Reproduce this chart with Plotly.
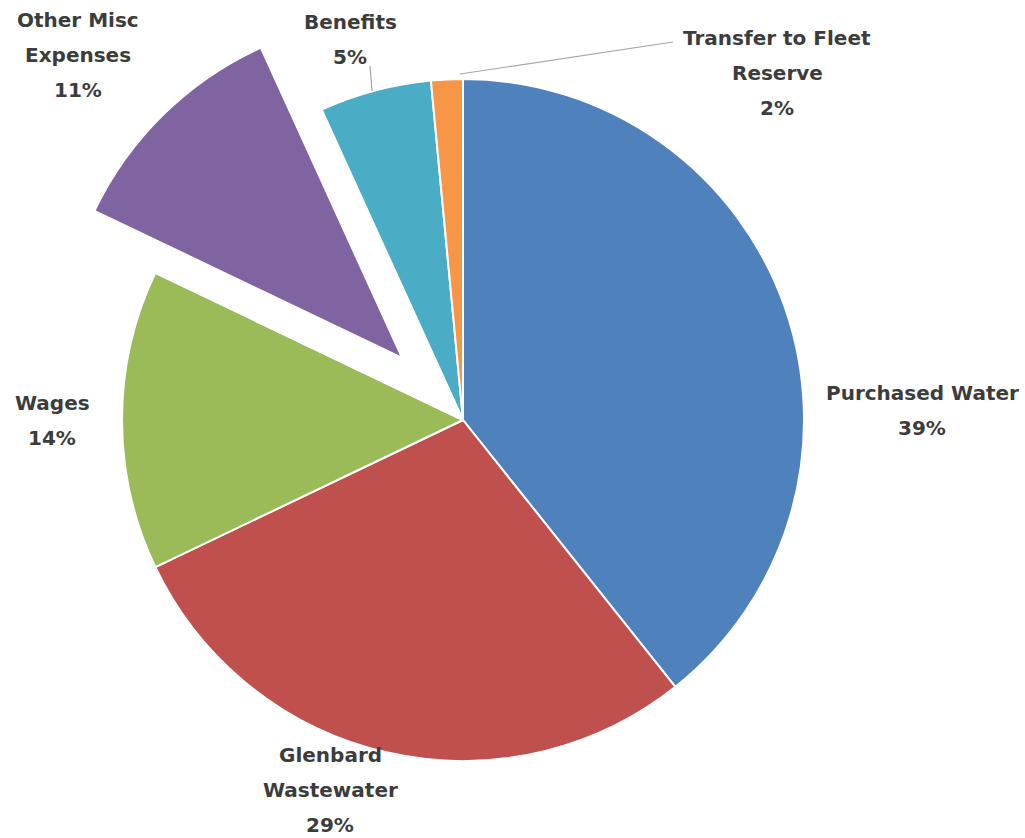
import math
import plotly.graph_objects as go

# ---- data ----
labels = ["Purchased Water", "Glenbard Wastewater", "Wages",
          "Other Misc Expenses", "Benefits", "Transfer to Fleet Reserve"]
values = [39.3, 28.6, 14.2, 11.1, 5.3, 1.5]
label_lines = [["Purchased Water"], ["Glenbard", "Wastewater"], ["Wages"],
               ["Other Misc", "Expenses"], ["Benefits"], ["Transfer to Fleet", "Reserve"]]
colors = ["#4F81BD", "#C0504D", "#9BBB59", "#8064A2", "#4BACC6", "#F79646"]
exploded = "Other Misc Expenses"

# ---- layout constants (pixels) ----
W, H = 1025, 838
CX, CY, R = 463, 420, 341
PULL = 0.255
LINE_STEP = 35
label_pos = {  # center x, first line center y
    "Purchased Water": (922, 393),
    "Glenbard Wastewater": (330, 755),
    "Wages": (52, 403),
    "Other Misc Expenses": (78, 20),
    "Benefits": (350, 22),
    "Transfer to Fleet Reserve": (777, 38),
}
leaders = [((370, 66), (372, 91)), ((673, 42), (460, 74))]

def px(x):
    return x / W

def py(y):
    return 1 - y / H

total = sum(values)
pcts = [f"{v / total * 100:.0f}%" for v in values]
ix = labels.index(exploded)
start = sum(values[:ix]) / total * 360
mid = math.radians(start + values[ix] / total * 360 / 2)
ox = PULL * R * math.sin(mid)
oy = -PULL * R * math.cos(mid)

clear = "rgba(0,0,0,0)"
fig = go.Figure()
# main pie (exploded slice hidden)
fig.add_trace(go.Pie(
    labels=labels, values=values, sort=False, direction="clockwise", rotation=0,
    marker=dict(colors=[clear if l == exploded else c for l, c in zip(labels, colors)],
                line=dict(color="white", width=2)),
    textinfo="none", hoverinfo="label+percent", showlegend=False,
    domain=dict(x=[px(CX - R), px(CX + R)], y=[py(CY + R), py(CY - R)]),
))
# exploded slice drawn as an offset copy
ex, ey = CX + ox, CY + oy
fig.add_trace(go.Pie(
    labels=labels, values=values, sort=False, direction="clockwise", rotation=0,
    marker=dict(colors=[c if l == exploded else clear for l, c in zip(labels, colors)],
                line=dict(color=["white" if l == exploded else clear for l in labels], width=2)),
    textinfo="none", hoverinfo="skip", showlegend=False,
    domain=dict(x=[px(ex - R), px(ex + R)], y=[py(ey + R), py(ey - R)]),
))

font = dict(family="'DejaVu Sans', sans-serif", size=20, color="#3C3C3C")
for lab, lines, pct in zip(labels, label_lines, pcts):
    x0, y0 = label_pos[lab]
    for i, t in enumerate(lines + [pct]):
        fig.add_annotation(x=px(x0), y=py(y0 + i * LINE_STEP), xref="paper", yref="paper",
                           text=f"<b>{t}</b>", showarrow=False, font=font,
                           xanchor="center", yanchor="middle")

for (a, b) in leaders:
    fig.add_shape(type="line", xref="paper", yref="paper",
                  x0=px(a[0]), y0=py(a[1]), x1=px(b[0]), y1=py(b[1]),
                  line=dict(color="#A6A6A6", width=1.2))

fig.update_layout(width=W, height=H, margin=dict(l=0, r=0, t=0, b=0),
                  paper_bgcolor="white", plot_bgcolor="white")
fig.write_html("out.html")
